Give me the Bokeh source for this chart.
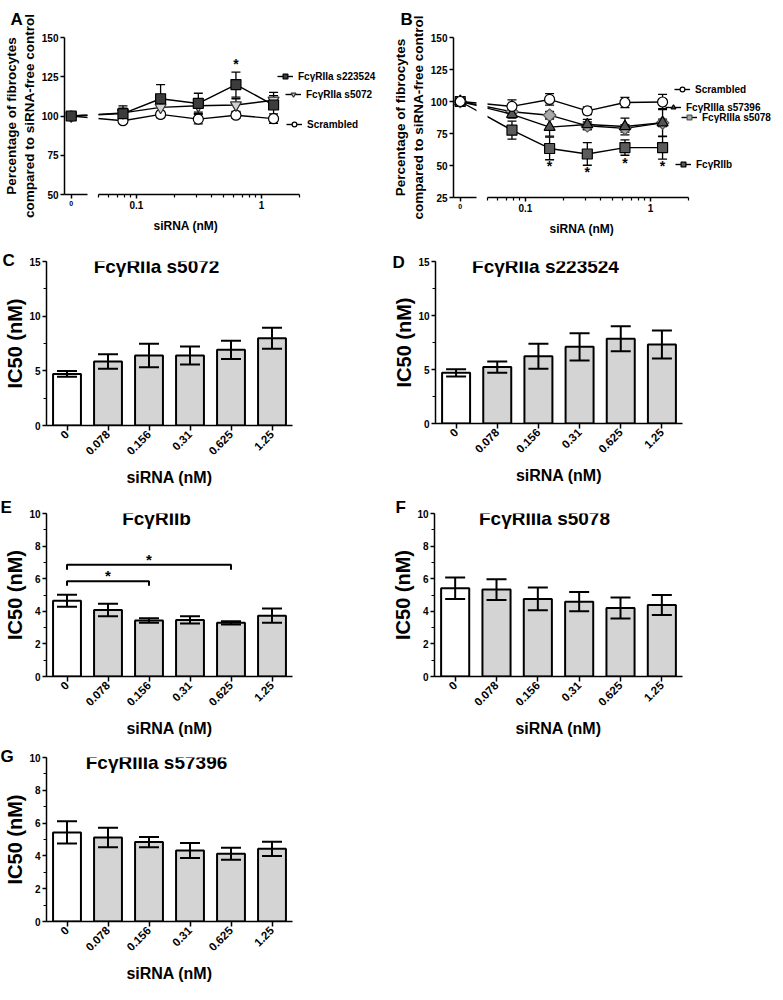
import math
from bokeh.plotting import figure
from bokeh.layouts import row, column
from bokeh.models import (ColumnDataSource, Whisker, TeeHead, FixedTicker, Label, Title,
                          Legend, LegendItem, Range1d, FactorRange, SingleIntervalTicker)
from bokeh.core.properties import value
from bokeh.embed import file_html
from bokeh.resources import INLINE

FONT = "Liberation Sans"

# ---------------- data: panels A and B (percentage of fibrocytes) ----------------
conc_nM = [0.078, 0.156, 0.3125, 0.625, 1.25]   # positive siRNA concentrations
ZERO_AT = 0.03                                    # where "0" sits on the broken log axis

a_s223524 = [100, 101.5, 111, 108, 120, 107]
a_s223524_err = [1.5, 5, 9, 6.5, 8, 8]
a_s5072 = [100, 102, 105.5, 106.5, 107, 110]
a_s5072_err = [1.5, 3, 3, 4, 4, 3]
a_scrambled = [100, 97, 101, 98, 100.5, 98.3]
a_scrambled_err = [1.5, 1.5, 2, 3, 2, 3]
a_star_conc = [0.625]
a_star_y = [133]

b_scrambled = [100, 96.2, 101.6, 92.7, 99.2, 99.6]
b_scrambled_err = [2, 5, 4.5, 3, 4, 6]
b_s57396 = [100, 90, 80, 82, 80.5, 83.5]
b_s57396_err = [2, 3, 7, 4, 6.5, 11]
b_s5078 = [100, 92, 89.3, 81, 79, 83.3]
b_s5078_err = [2, 3, 3, 3, 3, 3]
b_IIb = [100, 77.6, 63.3, 59, 64, 64]
b_IIb_err = [2, 7, 8.8, 8.8, 6, 9]
b_star_conc = [0.156, 0.3125, 0.625, 1.25]
b_star_y = [49.5, 45, 52.3, 49.5]

# ---------------- data: panels C-G (IC50, nM) ----------------
bar_cats = ["0", "0.078", "0.156", "0.31", "0.625", "1.25"]
c_ic50 = [4.72, 5.85, 6.4, 6.4, 6.92, 7.99]
c_sem = [0.27, 0.67, 1.07, 0.83, 0.84, 0.96]
d_ic50 = [4.69, 5.22, 6.23, 7.1, 7.84, 7.31]
d_sem = [0.34, 0.52, 1.16, 1.26, 1.16, 1.3]
e_ic50 = [4.65, 4.08, 3.43, 3.47, 3.29, 3.73]
e_sem = [0.37, 0.39, 0.14, 0.22, 0.1, 0.44]
f_ic50 = [5.41, 5.33, 4.76, 4.59, 4.2, 4.39]
f_sem = [0.66, 0.64, 0.7, 0.59, 0.64, 0.61]
g_ic50 = [5.43, 5.12, 4.84, 4.33, 4.13, 4.43]
g_sem = [0.68, 0.59, 0.31, 0.46, 0.36, 0.43]
e_bracket_from = ["0", "0"]
e_bracket_to = ["0.156", "0.625"]
e_bracket_y = [5.84, 6.86]
e_bracket_tail = [5.57, 6.55]
e_star_y = [6.2, 7.2]

# ---------------- helpers ----------------
def style(p):
    p.xgrid.visible = False
    p.ygrid.visible = False
    p.outline_line_color = None
    p.background_fill_color = "white"
    p.border_fill_color = "white"
    for ax in p.axis:
        ax.axis_line_color = "black"
        ax.axis_line_width = 1.5
        ax.major_tick_line_color = "black"
        ax.major_tick_line_width = 1.5
        ax.minor_tick_line_color = "black"
        ax.minor_tick_line_width = 1.2
        ax.major_tick_in = 0
        ax.major_tick_out = 4
        ax.minor_tick_in = 0
        ax.minor_tick_out = 3
        ax.major_label_standoff = 2
        ax.major_label_text_font = FONT
        ax.major_label_text_font_style = "bold"
        ax.major_label_text_color = "black"
        ax.axis_label_text_font = FONT
        ax.axis_label_text_font_style = "bold"
        ax.axis_label_text_color = "black"


def set_letter(p, letter, offset, standoff, valign):
    t = p.title
    t.text = letter
    t.align = "left"
    t.offset = offset
    t.standoff = standoff
    t.vertical_align = valign
    t.text_font = FONT
    t.text_font_style = "bold"
    t.text_font_size = "17px"
    t.text_color = "black"


def add_text(p, x, y, text, size, align="left", baseline="middle"):
    p.add_layout(Label(x=x, y=y, x_units="screen", y_units="screen", text=text,
                       text_font=FONT, text_font_style="bold", text_font_size=size,
                       text_color="black", text_align=align, text_baseline=baseline))


DEC = 125                 # pixels per decade on the log axes
L0, L1 = 0.0265, 0.0405   # left segment (holds "0")
R0, R1 = 0.0497, 2.0      # right segment (axis drawn only up to R1)
WL = round(math.log10(L1 / L0) * DEC)


def broken_panel(series, y_lo, y_hi, fh, top, bottom, lb, wr_frame, letter, letter_off,
                 letter_standoff, legend_pos, star_x, star_y, xlab_off):
    common = dict(x_axis_type="log", y_range=Range1d(y_lo, y_hi), frame_height=fh,
                  min_border_top=top, min_border_bottom=bottom,
                  output_backend="svg", toolbar_location=None)
    pl = figure(x_range=Range1d(L0, L1), frame_width=WL, min_border_left=lb,
                min_border_right=5, **common)
    r_end = R0 * 10 ** (wr_frame / DEC)
    pr = figure(x_range=Range1d(R0, r_end), frame_width=wr_frame, min_border_left=6,
                min_border_right=0, y_axis_location=None, **common)
    for p in (pl, pr):
        style(p)
    xs = [ZERO_AT] + conc_nM
    legend_r = {}
    for s in series:
        for p, idx in ((pl, [0]), (pr, [1, 2, 3, 4, 5])):
            src = ColumnDataSource(dict(
                x=[xs[i] for i in idx],
                lo=[s["y"][i] - s["err"][i] for i in idx],
                hi=[s["y"][i] + s["err"][i] for i in idx]))
            p.add_layout(Whisker(base="x", lower="lo", upper="hi", source=src,
                                 level="underlay", line_color="black", line_width=1.3,
                                 upper_head=TeeHead(size=9, line_width=1.3, line_color="black"),
                                 lower_head=TeeHead(size=9, line_width=1.3, line_color="black")))
            lr = p.line(xs, s["y"], line_color="black", line_width=1.4)
            sr = p.scatter(xs, s["y"], marker=s["marker"], size=s["size"], angle=s.get("angle", 0),
                           fill_color=s["fill"], line_color=s["line"], line_width=1.2)
            if p is pr:
                legend_r[s["name"]] = (lr, sr)
    pr.text(x=star_x, y=star_y, text=["*"] * len(star_x), text_font=value(FONT),
            text_font_size="14px", text_font_style="bold", text_align="center",
            text_baseline="middle", text_color="black")
    for name, (lx, ly) in legend_pos.items():
        lr, sr = legend_r[name]
        pr.add_layout(Legend(items=[LegendItem(label=name, renderers=[lr, sr])],
                             location=(lx, ly), padding=0, margin=0, spacing=0,
                             glyph_width=16, glyph_height=12, label_height=12,
                             label_standoff=5, label_text_font=FONT,
                             label_text_font_style="bold", label_text_font_size="10px",
                             label_text_color="black",
                             border_line_color=None, background_fill_alpha=0))
    # axes
    pl.yaxis.ticker = SingleIntervalTicker(interval=25, num_minor_ticks=0)
    pl.yaxis.major_label_text_font_size = "10px"
    pl.yaxis.axis_label = "Percentage of fibrocytes\ncompared to siRNA-free control"
    pl.yaxis.axis_label_text_font_size = "13.5px"
    pl.yaxis.axis_label_standoff = 2
    pl.xaxis.ticker = FixedTicker(ticks=[ZERO_AT], minor_ticks=[])
    pl.xaxis.major_label_overrides = {ZERO_AT: "0"}
    pl.xaxis.major_label_text_font_size = "7px"
    pr.xaxis.bounds = (R0, R1)
    pr.xaxis.ticker = FixedTicker(ticks=[0.1, 1],
                                  minor_ticks=[0.05, 0.06, 0.07, 0.08, 0.09, 0.2, 0.3, 0.4,
                                               0.5, 0.6, 0.7, 0.8, 0.9, 2])
    pr.xaxis.major_label_overrides = {0.1: "0.1", 1: "1"}
    pr.xaxis.major_label_text_font_size = "10px"
    pr.add_layout(Title(text="siRNA (nM)", align="left", offset=xlab_off, vertical_align="top",
                        standoff=14, text_font=FONT, text_font_style="bold",
                        text_font_size="12px", text_color="black"), "below")
    set_letter(pl, letter, letter_off, letter_standoff, "top")
    return pl, pr


def bar_panel(title, letter, vals, sems, y_max, step, fw, fh, lb, rb, top, bottom,
              letter_off, letter_standoff):
    p = figure(x_range=FactorRange(factors=bar_cats), y_range=Range1d(0, y_max),
               frame_width=fw, frame_height=fh, min_border_left=lb, min_border_right=rb,
               min_border_top=top, min_border_bottom=bottom,
               output_backend="svg", toolbar_location=None)
    style(p)
    src = ColumnDataSource(dict(
        cat=bar_cats, v=vals,
        lo=[v - s for v, s in zip(vals, sems)],
        hi=[v + s for v, s in zip(vals, sems)],
        fill=["white"] + ["#d4d4d4"] * (len(bar_cats) - 1)))
    p.vbar(x="cat", top="v", bottom=0, width=0.68, source=src, fill_color="fill",
           line_color="black", line_width=2)
    p.add_layout(Whisker(base="cat", lower="lo", upper="hi", source=src, level="annotation",
                         line_color="black", line_width=2,
                         upper_head=TeeHead(size=20, line_width=2, line_color="black"),
                         lower_head=TeeHead(size=20, line_width=2, line_color="black")))
    p.yaxis.ticker = SingleIntervalTicker(interval=step, num_minor_ticks=2)
    p.yaxis.major_label_text_font_size = "10px"
    p.yaxis.axis_label = "IC50 (nM)"
    p.yaxis.axis_label_text_font_size = "20px"
    p.yaxis.axis_label_standoff = 0
    p.xaxis.major_label_orientation = math.pi / 4
    p.xaxis.major_label_text_font_size = "11.5px"
    p.xaxis.major_tick_out = 5
    p.xaxis.axis_label = "siRNA (nM)"
    p.xaxis.axis_label_text_font_size = "16px"
    p.xaxis.axis_label_standoff = 7
    add_text(p, 110, fh - 5, title, "19px", align="center")
    set_letter(p, letter, letter_off, letter_standoff, "bottom")
    return p


# ---------------- panels A and B ----------------
a_series = [
    dict(name="Scrambled", y=a_scrambled, err=a_scrambled_err, marker="circle", size=10,
         fill="white", line="black"),
    dict(name="FcγRIIa s5072", y=a_s5072, err=a_s5072_err, marker="inverted_triangle",
         size=11, fill="#d2d2d2", line="#333333"),
    dict(name="FcγRIIa s223524", y=a_s223524, err=a_s223524_err, marker="square", size=10,
         fill="#3c3c3c", line="black"),
]
a_legend = {"FcγRIIa s223524": (179, 112), "FcγRIIa s5072": (187, 94), "Scrambled": (188, 64)}
a_l, a_r = broken_panel(a_series, 50, 150, 157, 37, 49, 57, 291, "A", -54, 14,
                        a_legend, a_star_conc, a_star_y, 55)

b_series = [
    dict(name="FcγRIIb", y=b_IIb, err=b_IIb_err, marker="square", size=10,
         fill="#5c5c5c", line="black"),
    dict(name="FcγRIIIa s5078", y=b_s5078, err=b_s5078_err, marker="square", size=9,
         angle=math.pi / 4, fill="#a9a9a9", line="#555555"),
    dict(name="FcγRIIIa s57396", y=b_s57396, err=b_s57396_err, marker="triangle", size=11,
         fill="#555555", line="black"),
    dict(name="Scrambled", y=b_scrambled, err=b_scrambled_err, marker="circle", size=10,
         fill="white", line="black"),
]
b_legend = {"Scrambled": (187, 102), "FcγRIIIa s57396": (178, 84),
            "FcγRIIIa s5078": (194, 74), "FcγRIIb": (188, 27)}
b_l, b_r = broken_panel(b_series, 25, 150, 160, 37, 49, 63, 288, "B", -53, 14,
                        b_legend, b_star_conc, b_star_y, 62)

# ---------------- panels C-G ----------------
c = bar_panel("FcγRIIa s5072", "C", c_ic50, c_sem, 15, 5, 246, 164, 46, 90, 15, 71, -44, -16)
d = bar_panel("FcγRIIa s223524", "D", d_ic50, d_sem, 15, 5, 247, 162, 53, 85, 15, 71, -43, -20)
e = bar_panel("FcγRIIb", "E", e_ic50, e_sem, 10, 2, 246, 163, 46, 90, 17, 72, -46, -6)
f = bar_panel("FcγRIIIa s5078", "F", f_ic50, f_sem, 10, 2, 248, 163, 52, 85, 17, 72, -39, -6)
g = bar_panel("FcγRIIIa s57396", "G", g_ic50, g_sem, 10, 2, 246, 164, 46, 90, 9, 63, -46, -16)

# significance brackets in E
e.multi_line(xs=[[a, a, b, b] for a, b in zip(e_bracket_from, e_bracket_to)],
             ys=[[t, y, y, t] for y, t in zip(e_bracket_y, e_bracket_tail)],
             line_color="black", line_width=2)
e_star_x = [bar_cats[(bar_cats.index(a) + bar_cats.index(b)) // 2]
            for a, b in zip(e_bracket_from, e_bracket_to)]
e.text(x=e_star_x, y=e_star_y, text=["*"] * len(e_star_x), text_font=value(FONT),
       text_font_size="15px", text_font_style="bold", text_align="center",
       text_baseline="middle", text_color="black")

layout = column(row(a_l, a_r, b_l, b_r), row(c, d), row(e, f), row(g))

with open("out.html", "w") as fh_out:
    fh_out.write(file_html(layout, INLINE, title="siRNA fibrocytes"))
